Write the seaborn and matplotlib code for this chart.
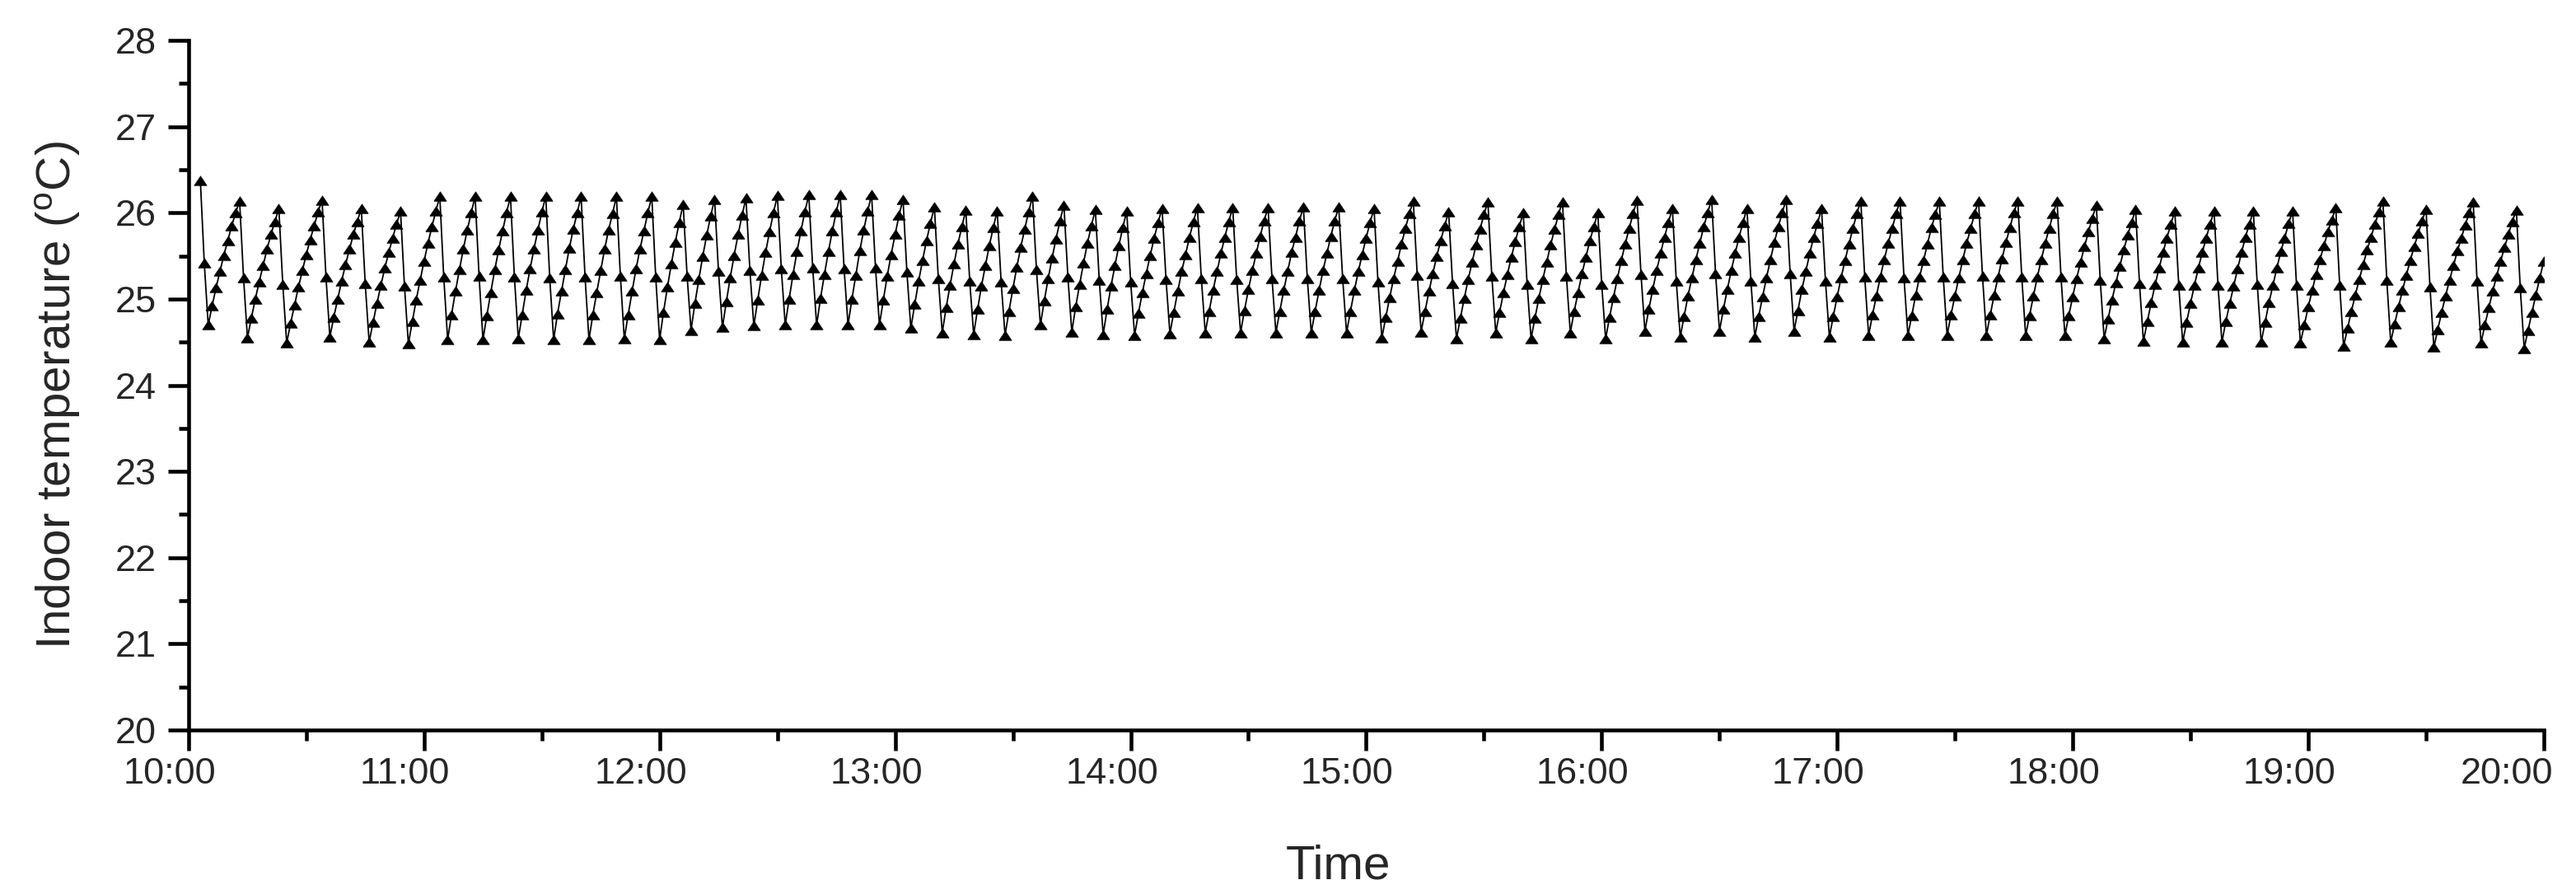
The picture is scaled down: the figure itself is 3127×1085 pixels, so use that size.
import pandas as pd
import seaborn as sns
import matplotlib.pyplot as plt
import matplotlib.transforms as mtransforms
from matplotlib.ticker import FixedLocator, MultipleLocator

# Indoor temperature (°C), one reading per minute, 10:03 -> 20:00
temp_10 = [26.38, 25.42, 24.70, 24.92, 25.13, 25.32, 25.51, 25.68, 25.85, 26.00,
           26.14, 25.25, 24.55, 24.78, 25.00, 25.20, 25.39, 25.58, 25.75, 25.90,
           26.05, 25.17, 24.49, 24.72, 24.93, 25.14, 25.33, 25.52, 25.69, 25.85, 26.01,
           26.15, 25.26, 24.56, 24.79, 25.00, 25.21, 25.40, 25.58, 25.75, 25.90,
           26.05, 25.18, 24.50, 24.73, 24.95, 25.16, 25.36, 25.54, 25.71, 25.87,
           26.02, 25.15, 24.48, 24.74, 24.99, 25.22]
temp_11 = [25.44, 25.65, 25.84, 26.02,
           26.19, 25.26, 24.53, 24.82, 25.09, 25.34, 25.58, 25.80, 26.00,
           26.19, 25.27, 24.53, 24.81, 25.08, 25.34, 25.57, 25.79, 26.00,
           26.19, 25.26, 24.54, 24.82, 25.10, 25.35, 25.58, 25.80, 26.01,
           26.19, 25.25, 24.53, 24.83, 25.09, 25.34, 25.59, 25.81, 26.00,
           26.19, 25.26, 24.53, 24.82, 25.08, 25.33, 25.58, 25.80, 25.99,
           26.19, 25.27, 24.54, 24.82, 25.09, 25.35, 25.58, 25.79, 26.00,
           26.19, 25.26]
temp_12 = [24.53, 24.85, 25.14, 25.41, 25.66, 25.89,
           26.10, 25.27, 24.64, 24.95, 25.23, 25.50, 25.74, 25.96,
           26.16, 25.32, 24.67, 24.97, 25.25, 25.51, 25.75, 25.97,
           26.17, 25.33, 24.69, 24.99, 25.28, 25.54, 25.78, 26.00,
           26.20, 25.35, 24.70, 25.00, 25.29, 25.55, 25.79, 26.01,
           26.21, 25.36, 24.70, 25.01, 25.29, 25.55, 25.79, 26.01,
           26.21, 25.35, 24.70, 25.00, 25.28, 25.56, 25.80, 26.02,
           26.21, 25.36, 24.70, 24.99, 25.27, 25.52]
temp_13 = [25.75, 25.97,
           26.16, 25.31, 24.66, 24.94, 25.21, 25.45, 25.68, 25.88,
           26.07, 25.24, 24.61, 24.90, 25.16, 25.41, 25.64, 25.84,
           26.03, 25.21, 24.59, 24.88, 25.15, 25.39, 25.62, 25.83,
           26.02, 25.20, 24.58, 24.86, 25.12, 25.37, 25.60, 25.81, 26.01,
           26.19, 25.34, 24.70, 24.98, 25.24, 25.48, 25.70, 25.91,
           26.09, 25.26, 24.62, 24.91, 25.17, 25.42, 25.65, 25.85,
           26.04, 25.22, 24.59, 24.88, 25.15, 25.39, 25.62, 25.83,
           26.02]
temp_14 = [25.20, 24.58, 24.84, 25.08, 25.30, 25.51, 25.71, 25.89,
           26.05, 25.23, 24.60, 24.85, 25.09, 25.32, 25.52, 25.72, 25.90,
           26.06, 25.24, 24.61, 24.86, 25.10, 25.32, 25.53, 25.72, 25.90,
           26.06, 25.23, 24.61, 24.87, 25.11, 25.33, 25.53, 25.73, 25.91,
           26.06, 25.24, 24.61, 24.86, 25.10, 25.32, 25.54, 25.72, 25.91,
           26.07, 25.24, 24.61, 24.86, 25.10, 25.33, 25.53, 25.73, 25.91,
           26.07, 25.24, 24.61, 24.86, 25.10, 25.32, 25.52]
temp_15 = [25.71, 25.89,
           26.05, 25.20, 24.55, 24.79, 25.02, 25.24, 25.44, 25.64, 25.82, 25.99,
           26.14, 25.28, 24.62, 24.86, 25.09, 25.30, 25.50, 25.68, 25.85,
           26.01, 25.18, 24.54, 24.78, 25.01, 25.23, 25.43, 25.63, 25.81, 25.98,
           26.13, 25.27, 24.61, 24.85, 25.08, 25.29, 25.49, 25.67, 25.84,
           26.00, 25.17, 24.54, 24.78, 25.01, 25.23, 25.43, 25.63, 25.81, 25.98,
           26.13, 25.27, 24.61, 24.86, 25.08, 25.30, 25.49, 25.68, 25.84,
           26.00]
temp_16 = [25.17, 24.54, 24.79, 25.02, 25.24, 25.45, 25.64, 25.82, 25.99,
           26.15, 25.29, 24.63, 24.88, 25.11, 25.33, 25.53, 25.72, 25.89,
           26.05, 25.21, 24.56, 24.80, 25.04, 25.25, 25.46, 25.65, 25.84, 26.00,
           26.16, 25.30, 24.63, 24.88, 25.11, 25.33, 25.53, 25.72, 25.89,
           26.05, 25.21, 24.56, 24.80, 25.03, 25.25, 25.46, 25.66, 25.84, 26.00,
           26.16, 25.30, 24.63, 24.87, 25.11, 25.32, 25.53, 25.72, 25.88,
           26.05, 25.21, 24.56, 24.80]
temp_17 = [25.03, 25.25, 25.45, 25.64, 25.82, 25.99,
           26.14, 25.26, 24.58, 24.82, 25.04, 25.26, 25.46, 25.65, 25.82, 25.99,
           26.14, 25.25, 24.58, 24.81, 25.05, 25.26, 25.45, 25.64, 25.83, 25.98,
           26.14, 25.26, 24.58, 24.82, 25.04, 25.25, 25.46, 25.65, 25.82, 25.99,
           26.14, 25.27, 24.58, 24.82, 25.05, 25.26, 25.47, 25.66, 25.83, 26.00,
           26.14, 25.26, 24.58, 24.81, 25.04, 25.26, 25.46, 25.65, 25.82, 25.99,
           26.14, 25.26, 24.58, 24.81]
temp_18 = [25.03, 25.24, 25.43, 25.61, 25.78, 25.94,
           26.09, 25.22, 24.54, 24.77, 24.99, 25.19, 25.38, 25.57, 25.74, 25.89,
           26.04, 25.18, 24.51, 24.74, 24.96, 25.17, 25.36, 25.54, 25.71, 25.87,
           26.02, 25.16, 24.50, 24.73, 24.95, 25.16, 25.36, 25.54, 25.71, 25.87,
           26.02, 25.16, 24.50, 24.74, 24.95, 25.15, 25.35, 25.54, 25.72, 25.87,
           26.02, 25.17, 24.50, 24.73, 24.96, 25.16, 25.36, 25.55, 25.71, 25.88,
           26.02, 25.16, 24.49, 24.70]
temp_19 = [24.91, 25.10, 25.29, 25.46, 25.62, 25.78, 25.92,
           26.06, 25.16, 24.45, 24.66, 24.86, 25.05, 25.23, 25.40, 25.57, 25.72, 25.87, 26.01,
           26.14, 25.22, 24.50, 24.71, 24.91, 25.10, 25.28, 25.45, 25.61, 25.76, 25.91,
           26.04, 25.14, 24.44, 24.65, 24.85, 25.04, 25.22, 25.39, 25.56, 25.71, 25.86, 26.00,
           26.13, 25.21, 24.49, 24.70, 24.90, 25.09, 25.27, 25.44, 25.60, 25.75, 25.90,
           26.03, 25.13, 24.43, 24.64, 24.85, 25.05, 25.25]
temp_20 = [25.44]

hourly = {10: temp_10, 11: temp_11, 12: temp_12, 13: temp_13, 14: temp_14,
          15: temp_15, 16: temp_16, 17: temp_17, 18: temp_18, 19: temp_19, 20: temp_20}
first_minute = {10: 3}

hour_ticks = list(range(10, 21))
hour_labels = [f"{h}:00" for h in hour_ticks]

# build a tidy frame, time in decimal hours
rows = []
for h, vals in hourly.items():
    m0 = first_minute.get(h, 0)
    for i, v in enumerate(vals):
        rows.append((h + (m0 + i) / 60.0, v))
df = pd.DataFrame(rows, columns=['Time', 'Temp'])

sns.set_style('ticks')
plt.rcParams['font.family'] = ['Liberation Sans', 'DejaVu Sans']
plt.rcParams['mathtext.fontset'] = 'custom'
plt.rcParams['mathtext.rm'] = 'Liberation Sans'

fig, ax = plt.subplots(figsize=(31.27, 10.85), dpi=100)
fig.subplots_adjust(left=0.0732, right=0.9875, top=0.9548, bottom=0.1834)

# flattened filled triangle like the original marker
tri = [(-1, -0.75), (1, -0.75), (0, 0.75), (-1, -0.75)]
sns.lineplot(data=df, x='Time', y='Temp', ax=ax, sort=False, errorbar=None,
             color='black', linewidth=1.3, marker=tri, markersize=11,
             markerfacecolor='black', markeredgecolor='black', markeredgewidth=0.5)

ax.set_xlim(10, 20)
ax.set_ylim(20, 28)
ax.xaxis.set_major_locator(FixedLocator(hour_ticks))
ax.set_xticklabels(hour_labels)
ax.xaxis.set_minor_locator(MultipleLocator(0.5))
ax.yaxis.set_major_locator(MultipleLocator(1))
ax.yaxis.set_minor_locator(MultipleLocator(0.5))

sns.despine(ax=ax)
for side in ['left', 'bottom']:
    ax.spines[side].set_linewidth(3.3)
    ax.spines[side].set_color('black')

ax.tick_params(which='major', direction='out', length=18, width=3.3,
               color='black', labelsize=32.5)
ax.tick_params(axis='x', which='major', pad=6)
ax.tick_params(axis='y', which='major', pad=10)
ax.tick_params(which='minor', direction='out', length=9, width=3.3, color='black')

ax.set_xlabel('Time', fontsize=42)
ax.set_ylabel(r'Indoor temperature ($\mathregular{^{o}}$C)', fontsize=42)
ax.xaxis.set_label_coords(0.488, -0.165)
ax.yaxis.set_label_coords(-0.045, 0.485)

# the original time labels sit a little left of their ticks, the last one more so
labels = ax.get_xticklabels()
for i, lab in enumerate(labels):
    dx = -0.45 if i == len(labels) - 1 else -0.23
    lab.set_transform(lab.get_transform() +
                      mtransforms.ScaledTranslation(dx, 0, fig.dpi_scale_trans))

plt.savefig('out.png', dpi=100)
